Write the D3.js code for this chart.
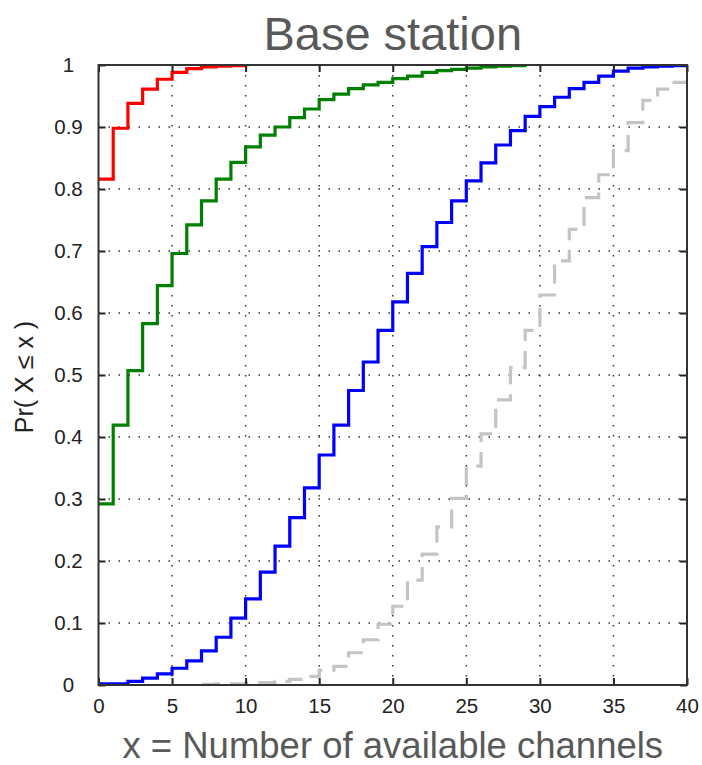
<!DOCTYPE html>
<html>
<head>
<meta charset="utf-8">
<script src="https://cdn.jsdelivr.net/npm/d3@7"></script>
<style>
  body { margin: 0; background: #fff; }
  text { font-family: "Liberation Sans", Arial, sans-serif; }
</style>
</head>
<body>
<svg id="chart"></svg>
<script>
var width = 702,
    height = 765;

// plot box in pixels
var margin = {top: 65, right: 15, bottom: 80, left: 98.5};
var innerW = width - margin.left - margin.right,
    innerH = height - margin.top - margin.bottom;

// CDF values, one value per channel count starting at *Start
var redStart = 0;
var redValues = [0.816, 0.898, 0.938, 0.961, 0.977, 0.988, 0.994, 0.997, 0.998, 0.999, 1.0];

var greenStart = 0;
var greenValues = [0.292, 0.419, 0.507, 0.583, 0.644, 0.696, 0.742, 0.781, 0.816, 0.843,
                   0.868, 0.887, 0.900, 0.915, 0.929, 0.944, 0.953, 0.962, 0.968, 0.972,
                   0.978, 0.982, 0.988, 0.991, 0.993, 0.995, 0.997, 0.998, 0.999, 1.0];

var blueStart = 0;
var blueValues = [0.002, 0.002, 0.006, 0.011, 0.018, 0.027, 0.039, 0.055, 0.077, 0.108,
                  0.139, 0.182, 0.224, 0.270, 0.318, 0.371, 0.419, 0.475, 0.521, 0.572,
                  0.618, 0.664, 0.707, 0.746, 0.781, 0.813, 0.842, 0.871, 0.894, 0.917,
                  0.933, 0.948, 0.962, 0.972, 0.982, 0.990, 0.995, 0.997, 0.998, 0.999, 1.0];

var grayStart = 7;
var grayValues = [0.001, 0.002, 0.002, 0.003, 0.004, 0.006, 0.009, 0.014, 0.024, 0.030,
                  0.052, 0.073, 0.098, 0.127, 0.169, 0.211, 0.255, 0.301, 0.353, 0.405,
                  0.460, 0.512, 0.572, 0.629, 0.684, 0.735, 0.786, 0.823, 0.862, 0.907,
                  0.943, 0.961, 0.972];

var xTicks = [0, 5, 10, 15, 20, 25, 30, 35, 40];
var yTicks = [0, 0.1, 0.2, 0.3, 0.4, 0.5, 0.6, 0.7, 0.8, 0.9, 1];

var series = [
  {start: grayStart,  values: grayValues,  color: "#c4c4c4", dash: "19,10"},
  {start: blueStart,  values: blueValues,  color: "#0000ff", dash: null},
  {start: greenStart, values: greenValues, color: "#008000", dash: null},
  {start: redStart,   values: redValues,   color: "#ff0000", dash: null}
];

var svg = d3.select("#chart")
    .attr("width", width)
    .attr("height", height);

var g = svg.append("g")
    .attr("transform", "translate(" + margin.left + "," + margin.top + ")");

var x = d3.scaleLinear().domain([0, 40]).range([0, innerW]);
var y = d3.scaleLinear().domain([0, 1]).range([innerH, 0]);

// dotted grid
g.append("g").selectAll("line")
  .data(xTicks.slice(1, -1))
  .join("line")
  .attr("x1", function(d) { return x(d); })
  .attr("x2", function(d) { return x(d); })
  .attr("y1", 0)
  .attr("y2", innerH)
  .attr("stroke", "#333")
  .attr("stroke-width", 1.5)
  .attr("stroke-dasharray", "1.5,8.5");

g.append("g").selectAll("line")
  .data(yTicks.slice(1, -1))
  .join("line")
  .attr("x1", 0)
  .attr("x2", innerW)
  .attr("y1", function(d) { return y(d); })
  .attr("y2", function(d) { return y(d); })
  .attr("stroke", "#333")
  .attr("stroke-width", 1.5)
  .attr("stroke-dasharray", "1.5,8.5");

// stairs, clipped to the axes box
svg.append("clipPath").attr("id", "box")
  .append("rect").attr("width", innerW).attr("height", innerH);

var stairs = d3.line()
  .x(function(d) { return x(d[0]); })
  .y(function(d) { return y(d[1]); })
  .curve(d3.curveStepAfter);

series.forEach(function(s) {
  var pts = s.values.map(function(v, i) { return [s.start + i, v]; });
  var last = pts[pts.length - 1];
  // a curve that never reaches 1 keeps running to the right edge
  if (last[1] < 1) pts.push([40, last[1]]);
  g.append("path")
    .attr("clip-path", "url(#box)")
    .attr("d", stairs(pts))
    .attr("fill", "none")
    .attr("stroke", s.color)
    .attr("stroke-width", 3.2)
    .attr("stroke-dasharray", s.dash);
});

// axes with inward ticks on all four sides
var xAxis = g.append("g")
  .attr("transform", "translate(0," + innerH + ")")
  .call(d3.axisBottom(x).tickValues(xTicks).tickSizeInner(-7).tickSizeOuter(0).tickPadding(13));

var yAxis = g.append("g")
  .call(d3.axisLeft(y).tickValues(yTicks).tickSizeInner(-7).tickSizeOuter(0).tickPadding(30)
          .tickFormat(function(d) { return d === 0 || d === 1 ? d3.format("d")(d) : d3.format(".1f")(d); }));

g.append("g")
  .call(d3.axisTop(x).tickValues(xTicks).tickSizeInner(-7).tickSizeOuter(0).tickFormat(""));
g.append("g")
  .attr("transform", "translate(" + innerW + ",0)")
  .call(d3.axisRight(y).tickValues(yTicks).tickSizeInner(-7).tickSizeOuter(0).tickFormat(""));

g.selectAll(".domain").remove();
g.selectAll(".tick line").attr("stroke", "#222").attr("stroke-width", 2);

xAxis.selectAll("text").style("font-size", "20.5px").attr("fill", "#222");
yAxis.selectAll("text").style("font-size", "20.5px").attr("fill", "#222")
  .attr("text-anchor", "middle");

// box
g.append("rect")
  .attr("width", innerW)
  .attr("height", innerH)
  .attr("fill", "none")
  .attr("stroke", "#333")
  .attr("stroke-width", 2);

// labels
svg.append("text")
  .attr("x", margin.left + innerW / 2)
  .attr("y", 50)
  .attr("text-anchor", "middle")
  .attr("fill", "#595959")
  .style("font-size", "47px")
  .text("Base station");

svg.append("text")
  .attr("x", margin.left + innerW / 2)
  .attr("y", 758)
  .attr("text-anchor", "middle")
  .attr("fill", "#595959")
  .style("font-size", "36.5px")
  .text("x = Number of available channels");

svg.append("text")
  .attr("transform", "translate(33," + (margin.top + innerH / 2 + 2) + ") rotate(-90)")
  .attr("text-anchor", "middle")
  .attr("fill", "#222")
  .style("font-size", "25px")
  .text("Pr( X \u2264 x )");
</script>
</body>
</html>
